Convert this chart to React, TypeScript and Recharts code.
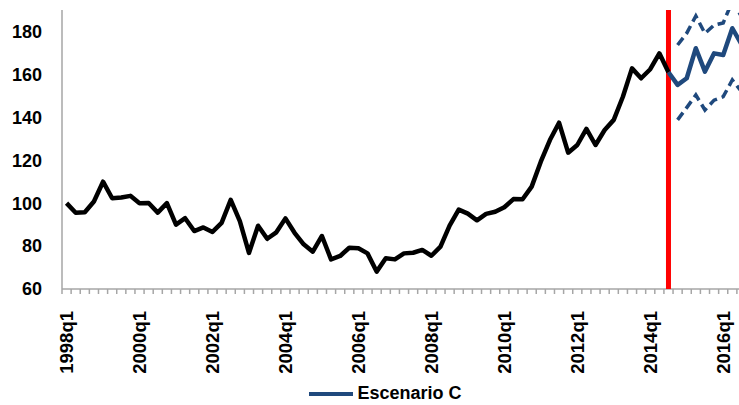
import { LineChart, Line, XAxis, YAxis, ReferenceLine, Legend } from "recharts";

const FONT = "'Liberation Sans', Arial, sans-serif";
const BLUE = "#1f497d";
const AXIS_GREY = "#a6a6a6";

// 1998q1 .. 2016q3
const quarters = Array.from({ length: 75 }, (_, i) => `${1998 + Math.floor(i / 4)}q${(i % 4) + 1}`);
const xTickLabels = ["1998q1", "2000q1", "2002q1", "2004q1", "2006q1", "2008q1", "2010q1", "2012q1", "2014q1", "2016q1"];
const yTicks = [60, 80, 100, 120, 140, 160, 180];

// observed series, 1998q1 .. 2014q3
const historico = [
  100, 95.5, 95.8, 100.8, 110, 102.3, 102.6, 103.4, 100, 100.1,
  95.6, 100, 90, 93, 87, 88.7, 86.6, 90.8, 101.5, 91.6,
  76.8, 89.5, 83.4, 86.4, 92.9, 86.2, 80.8, 77.4, 84.7, 73.8,
  75.4, 79.2, 79, 76.6, 68.1, 74.3, 73.8, 76.6, 76.9, 78.2,
  75.5, 79.7, 89.5, 97, 95.1, 92, 95, 96, 98.1, 101.9,
  101.8, 107.7, 119.3, 129.4, 137.5, 123.5, 127.1, 134.6, 127.1, 134.1,
  138.8, 149.6, 162.8, 158.2, 162.4, 169.8, 161,
];
// scenario from 2014q3
const escenarioStart = 66;
const escenarioC = [161, 155.1, 158.2, 172.2, 161.3, 169.8, 169, 181.5, 174];
// bands from 2014q4
const bandStart = 67;
const bandaSup = [173.7, 179.2, 187.2, 179.1, 183, 184, 194, 187];
const bandaInf = [138.8, 144.5, 150.4, 143.4, 148, 149.6, 157.4, 152];

const data = quarters.map((q, i) => ({
  i,
  q,
  hist: historico[i],
  esc: escenarioC[i - escenarioStart],
  sup: bandaSup[i - bandStart],
  inf: bandaInf[i - bandStart],
}));

const boundaryTicks = [...quarters.map((_, i) => i - 0.5), quarters.length - 0.5];
const labelTicks = xTickLabels.map((l) => quarters.indexOf(l));

// small mark between quarters
const BoundaryTick = (props: any) => {
  const { x, y } = props;
  return <line x1={x} y1={y} x2={x} y2={y + 5} stroke={AXIS_GREY} strokeWidth={1.5} />;
};

const QuarterTick = (props: any) => {
  const { x, y, payload } = props;
  const ty = y + 6;
  return (
    <text
      x={x}
      y={ty}
      transform={`rotate(-90, ${x}, ${ty})`}
      textAnchor="end"
      dy="0.36em"
      fontFamily={FONT}
      fontWeight="bold"
      fontSize={18.5}
      fill="#000"
    >
      {quarters[payload.value]}
    </text>
  );
};

const renderLegend = () => (
  <div
    style={{
      display: "flex",
      justifyContent: "center",
      alignItems: "center",
      fontFamily: FONT,
      fontWeight: "bold",
      fontSize: 18,
      paddingLeft: 25,
      paddingTop: 8,
    }}
  >
    <svg width={44} height={10}>
      <line x1={0} y1={5} x2={44} y2={5} stroke={BLUE} strokeWidth={4} />
    </svg>
    <span style={{ marginLeft: 4 }}>Escenario C</span>
  </div>
);

export default function App() {
  return (
    <div style={{ position: "absolute", left: 0, top: 0, width: 739, height: 405, overflow: "hidden", background: "#fff" }}>
      <LineChart width={760} height={405} data={data} margin={{ top: 10, right: 14, left: 0, bottom: 0 }}>
        <XAxis
          xAxisId="b"
          type="number"
          dataKey="i"
          domain={[-0.5, quarters.length - 0.5]}
          ticks={boundaryTicks}
          tick={<BoundaryTick />}
          tickLine={false}
          tickSize={0}
          tickMargin={0}
          height={8}
          axisLine={false}
          interval={0}
        />
        <XAxis
          xAxisId="q"
          type="number"
          dataKey="i"
          domain={[-0.5, quarters.length - 0.5]}
          ticks={labelTicks}
          tick={<QuarterTick />}
          axisLine={false}
          tickLine={false}
          height={78}
          interval={0}
        />
        <YAxis
          type="number"
          domain={[60, 190]}
          ticks={yTicks}
          allowDataOverflow
          width={62}
          axisLine={{ stroke: AXIS_GREY, strokeWidth: 1.5 }}
          tickLine={false}
          tickMargin={14}
          tick={{ fill: "#000", fontFamily: FONT, fontWeight: "bold", fontSize: 18 }}
        />
        <ReferenceLine xAxisId="q" y={60} stroke={AXIS_GREY} strokeWidth={1.5} />
        <ReferenceLine xAxisId="q" x={escenarioStart} stroke="#ff0000" strokeWidth={5} />
        <Line
          xAxisId="b"
          dataKey="hist"
          type="linear"
          stroke="#000"
          strokeWidth={4.5}
          strokeLinejoin="round"
          dot={false}
          legendType="none"
          isAnimationActive={false}
        />
        <Line
          xAxisId="q"
          dataKey="sup"
          type="linear"
          stroke={BLUE}
          strokeWidth={3.5}
          strokeDasharray="9 5"
          dot={false}
          legendType="none"
          isAnimationActive={false}
        />
        <Line
          xAxisId="q"
          dataKey="inf"
          type="linear"
          stroke={BLUE}
          strokeWidth={3.5}
          strokeDasharray="9 5"
          dot={false}
          legendType="none"
          isAnimationActive={false}
        />
        <Line
          xAxisId="q"
          dataKey="esc"
          name="Escenario C"
          type="linear"
          stroke={BLUE}
          strokeWidth={4.5}
          strokeLinejoin="round"
          dot={false}
          isAnimationActive={false}
        />
        <Legend verticalAlign="bottom" height={30} content={renderLegend} />
      </LineChart>
    </div>
  );
}
